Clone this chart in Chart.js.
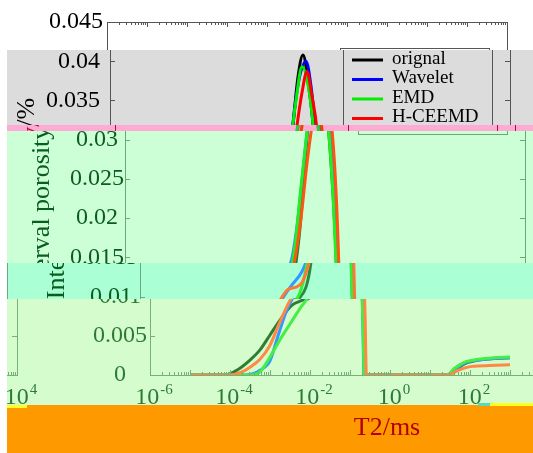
<!DOCTYPE html>
<html><head><meta charset="utf-8">
<script src="https://cdn.jsdelivr.net/npm/chart.js@4/dist/chart.umd.min.js"></script>
<style>
html,body{margin:0;padding:0;background:#fff;overflow:hidden}
#wrap{position:relative;width:533px;height:453px;overflow:hidden;background:#fff}
.strip{position:absolute;left:0;width:533px;overflow:hidden}
.strip canvas{position:absolute}
.bit{position:absolute}
#margin{position:absolute;left:0;top:0;width:7px;height:453px;background:#fff}
</style></head><body><div id="wrap"></div>
<script>
// ---- data (x = log10 of T2 in ms, y = interval porosity %) ----
const seriesNames = ['orignal', 'Wavelet', 'EMD', 'H-CEEMD'];

const logT2Orignal = [-5, -4.1, -3.8, -3.5, -3.25, -3.0, -2.75, -2.45, -2.2, -2.0, -1.85, -1.75, -1.62, -1.5, -1.42, -1.3, -1.175, -1.05, -0.925, -0.8, -0.72, -0.67, -0.63, 0, 1.0, 1.45, 1.65, 1.9, 2.2, 2.6, 3.0];
const valOrignal   = [0, 0, 0.0007, 0.0019, 0.0032, 0.0051, 0.0070, 0.0089, 0.0095, 0.0099, 0.0112, 0.0135, 0.019, 0.027, 0.032, 0.038, 0.0408, 0.0375, 0.032, 0.023, 0.015, 0.007, 0, 0, 0, 0, 0.0007, 0.0015, 0.0019, 0.0021, 0.0022];

const logT2Wavelet = [-5, -3.6, -3.4, -3.25, -3.0, -2.83, -2.6, -2.43, -2.2, -1.95, -1.83, -1.7, -1.55, -1.45, -1.3, -1.1, -0.98, -0.88, -0.78, -0.72, -0.68, -0.65, 0, 1.0, 1.45, 1.65, 1.9, 2.2, 2.6, 3.0];
const valWavelet   = [0, 0, 0.0002, 0.0006, 0.0018, 0.0045, 0.0080, 0.0098, 0.0115, 0.0132, 0.0148, 0.019, 0.026, 0.031, 0.037, 0.040, 0.037, 0.032, 0.024, 0.015, 0.007, 0, 0, 0, 0, 0.0008, 0.0016, 0.0019, 0.0021, 0.0022];

const logT2EMD = [-5, -3.5, -3.25, -3.0, -2.75, -2.5, -2.25, -2.0, -1.85, -1.75, -1.6, -1.45, -1.35, -1.2, -1.05, -0.925, -0.8, -0.73, -0.68, -0.64, 0, 1.0, 1.42, 1.62, 1.9, 2.2, 2.6, 3.0];
const valEMD   = [0, 0, 0.0004, 0.0023, 0.0045, 0.0065, 0.0085, 0.0105, 0.0135, 0.0165, 0.024, 0.031, 0.035, 0.0393, 0.037, 0.032, 0.023, 0.015, 0.007, 0, 0, 0, 0, 0.0009, 0.0017, 0.0020, 0.0022, 0.0023];

const logT2HCEEMD = [-5, -4.0, -3.7, -3.5, -3.25, -3.0, -2.75, -2.5, -2.3, -2.1, -1.95, -1.85, -1.75, -1.6, -1.45, -1.32, -1.2, -1.075, -0.95, -0.82, -0.72, -0.66, -0.62, -0.59, 0, 1.0, 1.45, 1.7, 2.05, 2.5, 3.0];
const valHCEEMD   = [0, 0, 0.0004, 0.0010, 0.0020, 0.0038, 0.0068, 0.0095, 0.0109, 0.0112, 0.0118, 0.013, 0.0148, 0.020, 0.027, 0.032, 0.036, 0.0387, 0.0355, 0.031, 0.023, 0.015, 0.007, 0, 0, 0, 0, 0.0006, 0.0011, 0.0012, 0.0013];

const xTickExponents = [-6, -4, -2, 0, 2, 4];
const xTickBase = '10';
const xTickPowers = ['-6', '-4', '-2', '0', '2', '4'];
const yTickLabels = ['0', '0.005', '0.01', '0.015', '0.02', '0.025', '0.03', '0.035', '0.04', '0.045'];
const xTitle = 'T2/ms';
const yTitle = 'Interval porosity/%';

// ---- styling ----
const FAMILY = "'Liberation Serif','DejaVu Serif','Times New Roman',serif";
const palettes = {
  white:  {bg:'#ffffff', text:'#000000', axis:'#555555', lines:['#000000','#0000ff','#00ee00','#ff0000']},
  gray:   {bg:'#dcdcdc', text:'#000000', axis:'#555555', lines:['#000000','#0000ff','#00ee00','#ff0000']},
  pink:   {bg:'#ffaad4', text:'#cc0033', axis:'#cc0033', lines:['#cc2222','#3355ff','#33cc33','#ee4400']},
  green1: {bg:'#ccffd5', text:'#0a5c1f', axis:'#6aa878', lines:['#1f7a33','#3388ff','#22ee22','#ff5511']},
  aqua:   {bg:'#aaffd5', text:'#0a5c1f', axis:'#66aa88', lines:['#2a8a44','#3399ff','#33ee33','#ff7733']},
  green2: {bg:'#d5fccc', text:'#2d7a38', axis:'#77b077', lines:['#2e7d32','#3399ff','#44ee44','#ff8844']},
  orange: {bg:'#ff9900', text:'#b30000', axis:'#cc3300', lines:['#cc0000','#cc3300','#cc6600','#cc0000']}
};
const strips = [
  {top:0,   h:50,  dx:0,  pal:'white',  yAlign:'right',  yPad:4},
  {top:50,  h:75,  dx:3,  pal:'gray',   yAlign:'right',  yPad:10},
  {top:125, h:6,   dx:8,  pal:'pink',   yAlign:'right',  yPad:6},
  {top:131, h:132, dx:18, pal:'green1', yAlign:'center', yPad:1},
  {top:263, h:36,  dx:33, pal:'aqua',   yAlign:'center', yPad:2},
  {top:299, h:106, dx:43, pal:'green2', yAlign:'center', yPad:3},
  {top:405, h:48,  dx:80, pal:'orange', yAlign:'center', yPad:3}
];
const glitchBits = [
  {x:478, y:403, w:12, h:3, c:'#55ddbb'},
  {x:490, y:403, w:43, h:3, c:'#ffff22'},
  {x:7,   y:405, w:20, h:3, c:'#ffff22'}
];

const seriesX = [logT2Orignal, logT2Wavelet, logT2EMD, logT2HCEEMD];
const seriesY = [valOrignal, valWavelet, valEMD, valHCEEMD];

const boxPlugin = {
  id: 'matlabBox',
  afterDatasetsDraw(chart, args, opts) {
    const pal = opts.pal, strip = opts.strip;
    const {ctx, chartArea} = chart;
    const {left, right, top, bottom} = chartArea;
    const xs = chart.scales.x, ys = chart.scales.y;
    ctx.save();
    ctx.strokeStyle = pal.axis;
    ctx.lineWidth = 1;
    ctx.strokeRect(Math.round(left) + 0.5, Math.round(top) + 0.5, Math.round(right - left), Math.round(bottom - top));
    ctx.beginPath();
    ys.ticks.forEach(t => {
      const py = Math.round(ys.getPixelForValue(t.value)) + 0.5;
      ctx.moveTo(left, py); ctx.lineTo(left + 5, py);
      ctx.moveTo(right, py); ctx.lineTo(right - 5, py);
    });
    for (let e = -6; e <= 4; e++) {
      for (let k = 1; k <= 9; k++) {
        if (e === 4 && k > 1) break;
        const px = Math.round(xs.getPixelForValue(k * Math.pow(10, e))) + 0.5;
        const len = k === 1 ? 5 : 3;
        ctx.moveTo(px, bottom); ctx.lineTo(px, bottom - len);
        ctx.moveTo(px, top); ctx.lineTo(px, top + len);
      }
    }
    ctx.stroke();

    // y tick labels
    ctx.fillStyle = pal.text;
    ctx.font = '24px ' + FAMILY;
    ctx.textBaseline = 'middle';
    const widest = Math.max(...yTickLabels.map(s => ctx.measureText(s).width));
    ys.ticks.forEach((t, i) => {
      const py = ys.getPixelForValue(t.value);
      const lab = yTickLabels[i];
      if (strip.yAlign === 'right') {
        ctx.textAlign = 'right';
        ctx.fillText(lab, left - strip.yPad, py);
      } else {
        ctx.textAlign = 'center';
        ctx.fillText(lab, left - strip.yPad - widest / 2, py);
      }
    });

    // x tick labels: 10 with superscript power
    ctx.textAlign = 'left';
    ctx.textBaseline = 'alphabetic';
    xTickExponents.forEach((e, i) => {
      const px = xs.getPixelForValue(Math.pow(10, e));
      ctx.font = '24px ' + FAMILY;
      const wb = ctx.measureText(xTickBase).width;
      ctx.font = '15px ' + FAMILY;
      const wp = ctx.measureText(xTickPowers[i]).width;
      const gx = px + 4 - (wb + wp + 1) / 2;
      ctx.font = '24px ' + FAMILY;
      ctx.fillText(xTickBase, gx, bottom + 29);
      ctx.font = '15px ' + FAMILY;
      ctx.fillText(xTickPowers[i], gx + wb + 1, bottom + 19);
    });

    // legend
    const lx = 340, ly = 48, lw = 149, lh = 86;
    ctx.fillStyle = pal.bg;
    ctx.fillRect(lx, ly, lw, lh);
    ctx.strokeStyle = pal.axis;
    ctx.lineWidth = 1;
    ctx.strokeRect(lx + 0.5, ly + 0.5, lw, lh);
    ctx.font = '19px ' + FAMILY;
    ctx.textBaseline = 'middle';
    ctx.textAlign = 'left';
    chart.data.datasets.forEach((ds, i) => {
      const y = 60 + i * 19.5;
      ctx.strokeStyle = ds.borderColor;
      ctx.lineWidth = 3;
      ctx.beginPath(); ctx.moveTo(349, y); ctx.lineTo(380, y); ctx.stroke();
      ctx.fillStyle = pal.text;
      ctx.fillText(ds.label, 389, y - 1);
    });
    ctx.restore();
  }
};

function makeChart(canvas, pal, strip) {
  return new Chart(canvas, {
    type: 'line',
    data: {
      datasets: seriesNames.map((name, i) => ({
        label: name,
        data: seriesX[i].map((e, k) => ({x: Math.pow(10, e), y: seriesY[i][k]})),
        borderColor: pal.lines[i],
        borderWidth: 3,
        pointRadius: 0,
        fill: false,
        cubicInterpolationMode: 'monotone',
        order: 3 - i
      }))
    },
    options: {
      responsive: false,
      animation: false,
      devicePixelRatio: 1,
      layout: {padding: {left: 0, top: 22, right: 26, bottom: 0}},
      plugins: {legend: {display: false}, tooltip: {enabled: false}, matlabBox: {pal, strip}},
      scales: {
        x: {
          type: 'logarithmic', min: 1e-6, max: 1e4,
          grid: {display: false, drawTicks: false},
          border: {display: false},
          afterBuildTicks: sc => { sc.ticks = xTickExponents.map(e => ({value: Math.pow(10, e)})); },
          afterFit: sc => { sc.height = 78; },
          ticks: {display: false},
          title: {display: true, text: xTitle, color: pal.text,
                  font: {family: FAMILY, size: 26}, padding: {top: 0, bottom: 9}}
        },
        y: {
          min: 0, max: 0.045,
          grid: {display: false, drawTicks: false},
          border: {display: false},
          afterFit: sc => { sc.width = 107; },
          ticks: {display: false, stepSize: 0.005},
          title: {display: true, text: yTitle, color: pal.text,
                  font: {family: FAMILY, size: 26}, padding: {top: 9, bottom: 0}}
        }
      }
    },
    plugins: [boxPlugin]
  });
}

const wrap = document.getElementById('wrap');
strips.forEach(s => {
  const pal = palettes[s.pal];
  const div = document.createElement('div');
  div.className = 'strip';
  div.style.top = s.top + 'px';
  div.style.height = s.h + 'px';
  div.style.background = pal.bg;
  wrap.appendChild(div);
  const offs = s.dx > 0 ? [s.dx, s.dx - 533] : [0];
  offs.forEach(dx => {
    const c = document.createElement('canvas');
    c.width = 533; c.height = 453;
    c.style.width = '533px'; c.style.height = '453px';
    c.style.left = dx + 'px';
    c.style.top = (-s.top) + 'px';
    div.appendChild(c);
    makeChart(c, pal, s);
  });
});
glitchBits.forEach(b => {
  const d = document.createElement('div');
  d.className = 'bit';
  d.style.left = b.x + 'px'; d.style.top = b.y + 'px';
  d.style.width = b.w + 'px'; d.style.height = b.h + 'px';
  d.style.background = b.c;
  wrap.appendChild(d);
});
const m = document.createElement('div');
m.id = 'margin';
wrap.appendChild(m);
</script>
</body></html>
